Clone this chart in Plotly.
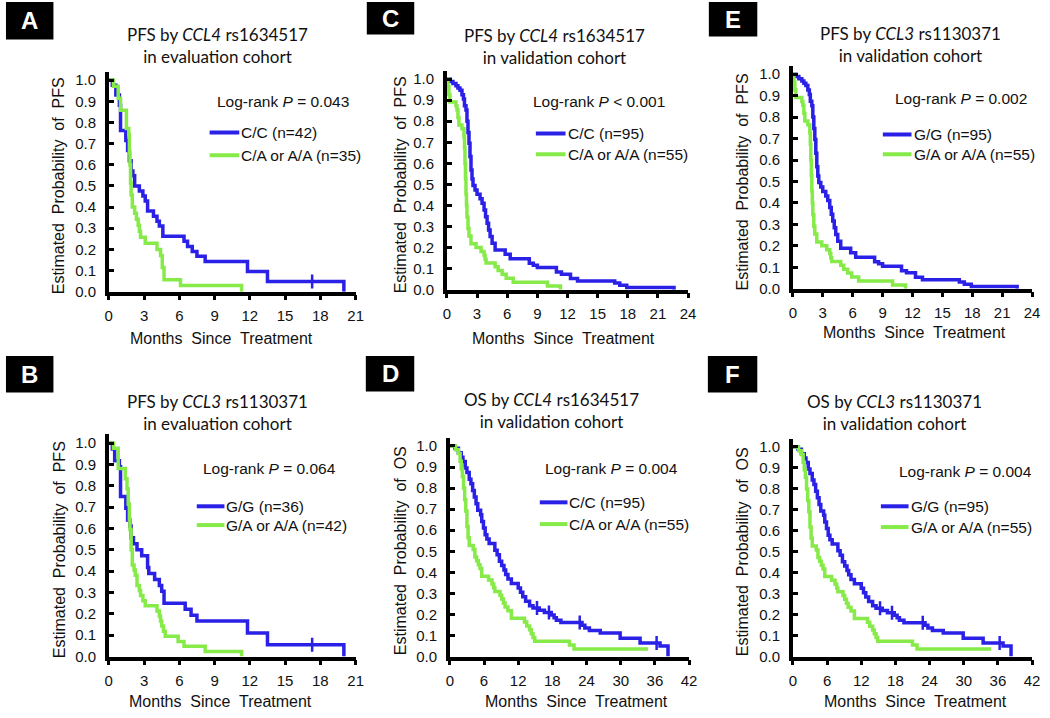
import plotly.graph_objects as go

W, H = 1050, 718

# ---------------- data ----------------
# Panel A: PFS by CCL4 rs1634517, evaluation cohort
A_blue_t = [0, 0.3, 0.6, 0.9, 1.0, 1.45, 1.6, 1.75, 1.9, 2.05, 2.2, 2.6, 2.9, 3.1, 3.3, 3.8, 4.1, 4.3, 4.6, 6.4, 6.7, 7.1, 7.5, 8.2, 11.8, 13.5, 20.0]
A_blue_s = [1.0, 0.976, 0.929, 0.881, 0.762, 0.714, 0.667, 0.619, 0.571, 0.548, 0.500, 0.476, 0.452, 0.429, 0.381, 0.357, 0.333, 0.310, 0.262, 0.238, 0.214, 0.190, 0.167, 0.143, 0.095, 0.048, 0.0]
A_blue_cens_t = [17.3]
A_blue_cens_s = [0.048]
A_green_t = [0, 0.4, 0.8, 1.0, 1.5, 1.7, 1.75, 1.8, 1.85, 1.9, 2.0, 2.2, 2.35, 2.5, 2.6, 2.7, 3.1, 4.1, 4.4, 4.55, 4.7, 6.1, 11.3]
A_green_s = [1.0, 0.971, 0.914, 0.857, 0.771, 0.743, 0.657, 0.600, 0.514, 0.457, 0.400, 0.371, 0.343, 0.314, 0.286, 0.257, 0.229, 0.200, 0.171, 0.114, 0.057, 0.029, 0.0]

# Panel B: PFS by CCL3 rs1130371, evaluation cohort
B_blue_t = [0, 0.3, 0.5, 0.9, 1.0, 1.45, 1.6, 1.8, 1.9, 2.1, 2.4, 2.8, 3.3, 3.4, 3.9, 4.3, 4.5, 4.7, 6.5, 7.0, 7.5, 11.8, 13.5, 20.0]
B_blue_s = [1.0, 0.972, 0.917, 0.889, 0.750, 0.694, 0.639, 0.611, 0.556, 0.528, 0.500, 0.472, 0.417, 0.389, 0.361, 0.333, 0.306, 0.250, 0.222, 0.194, 0.167, 0.111, 0.056, 0.0]
B_blue_cens_t = [17.3]
B_blue_cens_s = [0.056]
B_green_t = [0, 0.4, 0.8, 1.4, 1.55, 1.65, 1.75, 1.8, 1.9, 2.0, 2.15, 2.25, 2.4, 2.6, 2.7, 2.9, 3.1, 4.1, 4.3, 4.4, 4.5, 4.65, 4.8, 5.9, 6.4, 8.2, 11.3]
B_green_s = [1.0, 0.976, 0.881, 0.833, 0.786, 0.714, 0.643, 0.595, 0.500, 0.429, 0.405, 0.381, 0.333, 0.310, 0.286, 0.262, 0.238, 0.214, 0.190, 0.167, 0.143, 0.119, 0.095, 0.071, 0.048, 0.024, 0.0]

# Panel C: PFS by CCL4 rs1634517, validation cohort
C_blue_t = [0, 0.3, 0.6, 0.9, 1.1, 1.3, 1.5, 1.65, 1.75, 1.9, 2.0, 2.1, 2.2, 2.3, 2.4, 2.5, 2.6, 2.8, 3.0, 3.3, 3.5, 3.7, 3.85, 4.0, 4.15, 4.3, 4.5, 4.8, 5.8, 6.3, 8.2, 8.6, 9.0, 10.9, 11.4, 12.3, 13.0, 16.7, 17.2, 17.9, 22.6]
C_blue_s = [1.0, 0.989, 0.979, 0.968, 0.958, 0.947, 0.926, 0.905, 0.874, 0.853, 0.800, 0.747, 0.695, 0.632, 0.568, 0.526, 0.495, 0.474, 0.453, 0.432, 0.411, 0.379, 0.347, 0.316, 0.284, 0.253, 0.221, 0.189, 0.168, 0.147, 0.126, 0.116, 0.105, 0.084, 0.074, 0.053, 0.042, 0.032, 0.021, 0.011, 0.0]
C_green_t = [0, 0.1, 0.2, 0.3, 0.9, 1.0, 1.1, 1.2, 1.5, 1.7, 1.75, 1.8, 1.85, 1.9, 1.95, 2.0, 2.1, 2.2, 2.4, 2.9, 3.4, 3.7, 3.8, 3.9, 4.8, 5.1, 5.5, 5.9, 6.6, 10.0, 11.3]
C_green_s = [1.0, 0.964, 0.927, 0.891, 0.873, 0.855, 0.818, 0.782, 0.764, 0.727, 0.673, 0.600, 0.527, 0.455, 0.400, 0.345, 0.291, 0.255, 0.218, 0.200, 0.182, 0.164, 0.145, 0.127, 0.109, 0.091, 0.073, 0.055, 0.036, 0.018, 0.0]

# Panel E: PFS by CCL3 rs1130371, validation cohort
E_blue_t = [0, 0.3, 0.6, 0.9, 1.1, 1.3, 1.5, 1.65, 1.75, 1.9, 2.0, 2.1, 2.2, 2.3, 2.4, 2.5, 2.6, 2.8, 3.0, 3.3, 3.5, 3.7, 3.85, 4.0, 4.15, 4.3, 4.5, 4.8, 5.8, 6.3, 8.2, 8.6, 9.0, 10.9, 11.4, 12.3, 13.0, 16.7, 17.2, 17.9, 22.5]
E_blue_s = [1.0, 0.989, 0.979, 0.968, 0.958, 0.947, 0.926, 0.905, 0.874, 0.853, 0.800, 0.747, 0.695, 0.632, 0.568, 0.526, 0.495, 0.474, 0.453, 0.432, 0.411, 0.379, 0.347, 0.316, 0.284, 0.253, 0.221, 0.189, 0.168, 0.147, 0.126, 0.116, 0.105, 0.084, 0.074, 0.053, 0.042, 0.032, 0.021, 0.011, 0.0]
E_green_t = [0, 0.1, 0.2, 0.3, 0.9, 1.0, 1.1, 1.2, 1.5, 1.7, 1.75, 1.8, 1.85, 1.9, 1.95, 2.0, 2.1, 2.2, 2.4, 2.9, 3.4, 3.7, 3.8, 3.9, 4.8, 5.1, 5.5, 5.9, 6.6, 10.0, 11.3]
E_green_s = [1.0, 0.964, 0.927, 0.891, 0.873, 0.855, 0.818, 0.782, 0.764, 0.727, 0.673, 0.600, 0.527, 0.455, 0.400, 0.345, 0.291, 0.255, 0.218, 0.200, 0.182, 0.164, 0.145, 0.127, 0.109, 0.091, 0.073, 0.055, 0.036, 0.018, 0.0]

# Panel D: OS by CCL4 rs1634517, validation cohort
D_blue_t = [0, 0.9, 1.5, 2.0, 2.3, 2.7, 3.0, 3.4, 3.7, 4.0, 4.3, 4.6, 4.9, 5.4, 5.6, 5.9, 6.2, 6.5, 6.9, 7.9, 8.3, 8.7, 9.1, 9.5, 9.8, 10.2, 10.8, 12.0, 12.4, 12.8, 13.3, 14.0, 14.6, 15.7, 16.6, 17.8, 18.3, 18.7, 19.5, 23.2, 23.7, 24.5, 26.4, 29.9, 33.4, 36.9, 38.3]
D_blue_s = [1.0, 0.989, 0.968, 0.947, 0.926, 0.895, 0.874, 0.842, 0.821, 0.789, 0.758, 0.726, 0.695, 0.674, 0.642, 0.611, 0.579, 0.558, 0.537, 0.505, 0.484, 0.453, 0.432, 0.411, 0.390, 0.368, 0.347, 0.326, 0.305, 0.284, 0.263, 0.242, 0.231, 0.220, 0.209, 0.197, 0.185, 0.173, 0.162, 0.149, 0.136, 0.124, 0.112, 0.087, 0.065, 0.050, 0.0]
D_blue_cens_t = [15.3, 17.4, 22.8, 36.3]
D_blue_cens_s = [0.231, 0.209, 0.162, 0.065]
D_green_t = [0, 1.0, 1.5, 1.8, 2.0, 2.2, 2.4, 2.6, 2.8, 3.0, 3.2, 3.4, 4.1, 4.4, 4.7, 5.0, 5.3, 5.6, 6.8, 7.4, 7.7, 7.9, 8.8, 9.1, 9.4, 9.7, 10.2, 10.8, 13.1, 13.5, 14.0, 14.3, 14.6, 14.9, 21.0, 21.8, 34.8]
D_green_s = [1.0, 0.982, 0.964, 0.927, 0.891, 0.855, 0.800, 0.745, 0.691, 0.618, 0.564, 0.527, 0.509, 0.473, 0.455, 0.436, 0.418, 0.382, 0.364, 0.345, 0.327, 0.309, 0.291, 0.273, 0.255, 0.236, 0.218, 0.182, 0.164, 0.145, 0.127, 0.109, 0.091, 0.073, 0.055, 0.036, 0.036]

# Panel F: OS by CCL3 rs1130371, validation cohort
F_blue_t = [0, 0.9, 1.5, 2.0, 2.3, 2.7, 3.0, 3.4, 3.7, 4.0, 4.3, 4.6, 4.9, 5.4, 5.6, 5.9, 6.2, 6.5, 6.9, 7.9, 8.3, 8.7, 9.1, 9.5, 9.8, 10.2, 10.8, 12.0, 12.4, 12.8, 13.3, 14.0, 14.6, 15.7, 16.6, 17.8, 18.3, 18.7, 19.5, 23.2, 23.7, 24.5, 26.4, 29.9, 33.4, 36.9, 38.3]
F_blue_s = [1.0, 0.989, 0.968, 0.947, 0.926, 0.895, 0.874, 0.842, 0.821, 0.789, 0.758, 0.726, 0.695, 0.674, 0.642, 0.611, 0.579, 0.558, 0.537, 0.505, 0.484, 0.453, 0.432, 0.411, 0.390, 0.368, 0.347, 0.326, 0.305, 0.284, 0.263, 0.242, 0.231, 0.220, 0.209, 0.197, 0.185, 0.173, 0.162, 0.149, 0.136, 0.124, 0.112, 0.087, 0.065, 0.050, 0.0]
F_blue_cens_t = [15.3, 17.4, 22.8, 36.3]
F_blue_cens_s = [0.231, 0.209, 0.162, 0.065]
F_green_t = [0, 1.0, 1.5, 1.8, 2.0, 2.2, 2.4, 2.6, 2.8, 3.0, 3.2, 3.4, 4.1, 4.4, 4.7, 5.0, 5.3, 5.6, 6.8, 7.4, 7.7, 7.9, 8.8, 9.1, 9.4, 9.7, 10.2, 10.8, 13.1, 13.5, 14.0, 14.3, 14.6, 14.9, 21.0, 21.8, 34.8]
F_green_s = [1.0, 0.982, 0.964, 0.927, 0.891, 0.855, 0.800, 0.745, 0.691, 0.618, 0.564, 0.527, 0.509, 0.473, 0.455, 0.436, 0.418, 0.382, 0.364, 0.345, 0.327, 0.309, 0.291, 0.273, 0.255, 0.236, 0.218, 0.182, 0.164, 0.145, 0.127, 0.109, 0.091, 0.073, 0.055, 0.036, 0.036]

labels = ["A", "B", "C", "D", "E", "F"]
titles = {"A": "PFS by <i>CCL4</i> rs1634517<br>in evaluation cohort",
          "B": "PFS by <i>CCL3</i> rs1130371<br>in evaluation cohort",
          "C": "PFS by <i>CCL4</i> rs1634517<br>in validation cohort",
          "D": "OS by <i>CCL4</i> rs1634517<br>in validation cohort",
          "E": "PFS by <i>CCL3</i> rs1130371<br>in validation cohort",
          "F": "OS by <i>CCL3</i> rs1130371<br>in validation cohort"}
pvals = {"A": "= 0.043", "B": "= 0.064", "C": "< 0.001", "D": "= 0.004", "E": "= 0.002", "F": "= 0.004"}
leg_blue = {"A": "C/C (n=42)", "B": "G/G (n=36)", "C": "C/C (n=95)", "D": "C/C (n=95)", "E": "G/G (n=95)", "F": "G/G (n=95)"}
leg_green = {"A": "C/A or A/A (n=35)", "B": "G/A or A/A (n=42)", "C": "C/A or A/A (n=55)",
             "D": "C/A or A/A (n=55)", "E": "G/A or A/A (n=55)", "F": "G/A or A/A (n=55)"}
endpoint = {"A": "PFS", "B": "PFS", "C": "PFS", "D": "OS", "E": "PFS", "F": "OS"}
xmax = {"A": 21, "B": 21, "C": 24, "D": 42, "E": 24, "F": 42}
xdtick = {"A": 3, "B": 3, "C": 3, "D": 6, "E": 3, "F": 6}

series = {
    "A": (A_blue_t, A_blue_s, A_green_t, A_green_s, A_blue_cens_t, A_blue_cens_s),
    "B": (B_blue_t, B_blue_s, B_green_t, B_green_s, B_blue_cens_t, B_blue_cens_s),
    "C": (C_blue_t, C_blue_s, C_green_t, C_green_s, [], []),
    "D": (D_blue_t, D_blue_s, D_green_t, D_green_s, D_blue_cens_t, D_blue_cens_s),
    "E": (E_blue_t, E_blue_s, E_green_t, E_green_s, [], []),
    "F": (F_blue_t, F_blue_s, F_green_t, F_green_s, F_blue_cens_t, F_blue_cens_s),
}

# ---------------- layout geometry (pixels) ----------------
geom = {
    "A": dict(x0=106, x1=355.7, y0=295, y1=81,
              title=(216, 46), logrank=(213, 103), leg=(208, 238, 134, 157),
              ytitle=(56, 188), xtitle=(220, 342), box=(2, 2, 50, 40)),
    "B": dict(x0=106, x1=355.7, y0=664, y1=448,
              title=(216, 417), logrank=(199, 474), leg=(195, 223, 512, 531),
              ytitle=(56, 556), xtitle=(219, 709), box=(2, 360, 50, 397)),
    "C": dict(x0=448, x1=692, y0=293, y1=80,
              title=(557, 47), logrank=(533, 103), leg=(538, 568, 135, 156),
              ytitle=(401, 187), xtitle=(566, 342), box=(367, 2, 415, 35)),
    "D": dict(x0=451, x1=693, y0=664, y1=451,
              title=(554, 415), logrank=(545, 474), leg=(542, 570, 508, 530),
              ytitle=(401, 557), xtitle=(579, 709), box=(366, 360, 415, 396)),
    "E": dict(x0=798, x1=1040, y0=292, y1=75,
              title=(917, 45), logrank=(899, 100), leg=(889, 918, 136, 156),
              ytitle=(747, 184), xtitle=(921, 336), box=(713, 2, 762, 37)),
    "F": dict(x0=798, x1=1040, y0=664, y1=452,
              title=(901, 417), logrank=(903, 477), leg=(887, 915, 512, 533),
              ytitle=(747, 558), xtitle=(922, 709), box=(712, 360, 762, 397)),
}

BLUE = "#2a20e6"
GREEN = "#86ea48"
SANS = "Liberation Sans, Arial, sans-serif"
TFONT = "Lato, Calibri, sans-serif"
YTOP = 1.04
SP = "\u00a0 "


def px(x):
    return x / W


def py(y):
    return 1 - y / H


fig = go.Figure()
layout = dict(width=W, height=H, autosize=False, margin=dict(l=0, r=0, t=0, b=0),
              paper_bgcolor="white", plot_bgcolor="white", showlegend=False)
annotations = []
shapes = []

for i, k in enumerate(labels, start=1):
    g = geom[k]
    xa = "x" if i == 1 else f"x{i}"
    ya = "y" if i == 1 else f"y{i}"
    bt, bs, gt, gs, ct, cs = series[k]
    fig.add_trace(go.Scatter(x=bt, y=bs, mode="lines", xaxis=xa, yaxis=ya,
                             line=dict(color=BLUE, width=3.5, shape="hv")))
    fig.add_trace(go.Scatter(x=gt, y=gs, mode="lines", xaxis=xa, yaxis=ya,
                             line=dict(color=GREEN, width=3.5, shape="hv")))
    if ct:
        fig.add_trace(go.Scatter(x=ct, y=cs, mode="markers", xaxis=xa, yaxis=ya,
                                 marker=dict(symbol="line-ns", size=10,
                                             line=dict(color=BLUE, width=2.5))))
    unit = g["y0"] - g["y1"]
    ytop_px = g["y0"] - YTOP * unit
    layout["xaxis" if i == 1 else f"xaxis{i}"] = dict(
        domain=[px(g["x0"]), px(g["x1"])], range=[0, xmax[k]], anchor=ya,
        showline=True, linewidth=3.5, linecolor="black", mirror=False,
        ticks="outside", ticklen=5, tickwidth=3, tickcolor="black",
        tick0=0, dtick=xdtick[k], showgrid=False, zeroline=False,
        tickfont=dict(family=SANS, size=15, color="#111"), ticklabelstandoff=3)
    layout["yaxis" if i == 1 else f"yaxis{i}"] = dict(
        domain=[py(g["y0"]), py(ytop_px)], range=[0, YTOP], anchor=xa,
        showline=True, linewidth=3.5, linecolor="black",
        ticks="inside", ticklen=5, tickwidth=3, tickcolor="black",
        tick0=0, dtick=0.1, tickformat=".1f", showgrid=False, zeroline=False,
        tickfont=dict(family=SANS, size=15, color="#111"), ticklabelstandoff=6)

    # panel letter
    bx0, by0, bx1, by1 = g["box"]
    shapes.append(dict(type="rect", xref="paper", yref="paper", x0=px(bx0), x1=px(bx1),
                       y0=py(by1), y1=py(by0), fillcolor="black", line=dict(width=0)))
    annotations.append(dict(text=f"<b>{k}</b>", xref="paper", yref="paper",
                            x=px((bx0 + bx1) / 2), y=py((by0 + by1) / 2),
                            xanchor="center", yanchor="middle", showarrow=False,
                            font=dict(family=SANS, size=24, color="white")))
    # title (two lines)
    tx, ty = g["title"]
    annotations.append(dict(text=titles[k], xref="paper", yref="paper", x=px(tx), y=py(ty),
                            xanchor="center", yanchor="middle", showarrow=False,
                            font=dict(family=TFONT, size=17, color="#111")))
    # log-rank
    lx, ly = g["logrank"]
    annotations.append(dict(text=f"Log-rank <i>P</i> {pvals[k]}", xref="paper", yref="paper",
                            x=px(lx), y=py(ly), xanchor="left", yanchor="middle",
                            showarrow=False, font=dict(family=SANS, size=15.5, color="#111")))
    # legend
    lx0, lx1, lyb, lyg = g["leg"]
    for col, yy, txt in ((BLUE, lyb, leg_blue[k]), (GREEN, lyg, leg_green[k])):
        shapes.append(dict(type="line", xref="paper", yref="paper", x0=px(lx0), x1=px(lx1),
                           y0=py(yy), y1=py(yy), line=dict(color=col, width=4)))
        annotations.append(dict(text=txt, xref="paper", yref="paper", x=px(lx1), y=py(yy),
                                xanchor="left", yanchor="middle", showarrow=False,
                                font=dict(family=SANS, size=15.5, color="#111")))
    # axis titles
    yx, yy = g["ytitle"]
    annotations.append(dict(text=f"Estimated{SP}Probability{SP}of{SP}{endpoint[k]}",
                            xref="paper", yref="paper", x=px(yx), y=py(yy),
                            xanchor="center", yanchor="middle", textangle=-90, showarrow=False,
                            font=dict(family=SANS, size=16, color="#111")))
    xx, xy = g["xtitle"]
    annotations.append(dict(text=f"Months{SP}Since{SP}Treatment", xref="paper", yref="paper",
                            x=px(xx), y=py(xy), xanchor="center", yanchor="middle",
                            showarrow=False, font=dict(family=SANS, size=16, color="#111")))

layout["annotations"] = annotations
layout["shapes"] = shapes
fig.update_layout(**layout)
fig.write_html("out.html", config={"displayModeBar": False},
               post_script="document.body.style.margin='0px';")
